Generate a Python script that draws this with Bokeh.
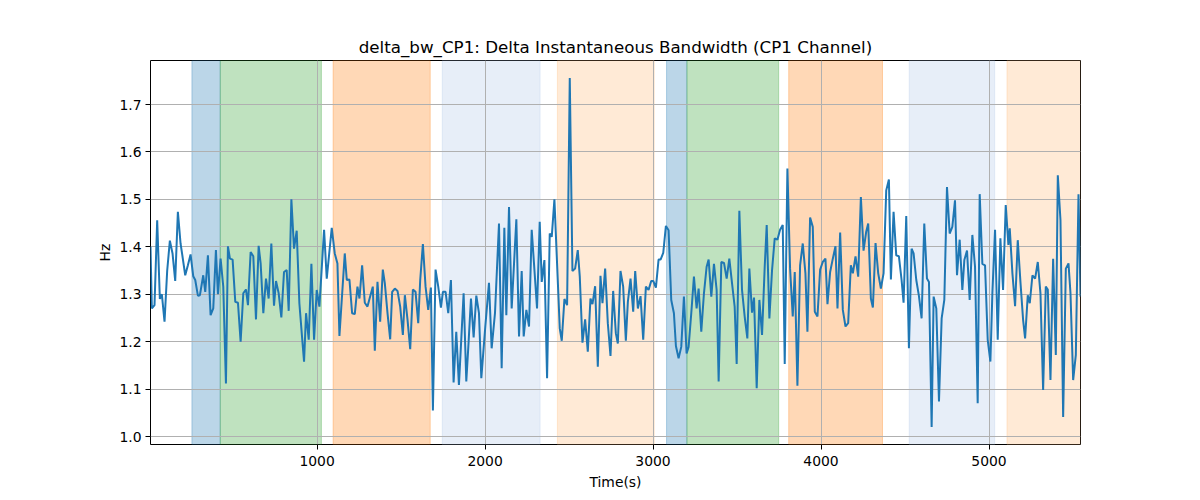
from bokeh.plotting import figure
from bokeh.models import BoxAnnotation, FixedTicker, CustomJSTickFormatter, Range1d
from bokeh.embed import file_html
from bokeh.resources import INLINE

# ---- data ----
time_s = [
    8.4, 16.4, 32.3, 48.2, 64.1, 76.0, 91.9, 107.8, 123.7, 139.6, 155.5, 171.4, 187.3, 199.2, 215.1,
    231.0, 246.9, 262.8, 274.7, 290.6, 302.5, 322.4, 334.3, 350.2, 366.1, 382.0, 397.9, 409.8, 425.7,
    441.6, 457.5,
    469.4, 481.3, 497.2, 513.1, 529.0, 544.9, 560.8, 576.7, 588.6, 604.5, 620.4, 636.3, 652.2, 664.1,
    680.0, 695.9, 711.8, 727.7, 743.6, 755.5, 771.4, 787.3, 803.2, 819.1, 831.1, 847.0, 862.8, 878.7,
    894.6, 910.5, 922.5,
    934.4, 950.3, 966.2, 982.1, 998.0, 1013.9, 1041.7, 1057.6, 1087.4, 1105.3, 1121.2, 1133.1, 1164.9,
    1176.8, 1192.7, 1208.6, 1224.5, 1240.4, 1252.3, 1268.2, 1284.1, 1300.0, 1315.9, 1331.8, 1343.7,
    1359.6, 1375.5, 1391.4,
    1403.4, 1419.3, 1435.2, 1447.1, 1463.0, 1478.9, 1494.8, 1510.7, 1522.6, 1538.5, 1554.4, 1570.3,
    1586.2, 1602.1, 1614.0, 1629.9, 1645.8, 1661.7, 1677.6, 1689.5, 1705.4, 1721.3, 1737.2, 1749.1,
    1765.0, 1780.9, 1796.8, 1812.7, 1828.6, 1844.5,
    1872.4, 1888.3, 1902.2, 1916.1, 1932.0, 1947.9, 1963.8, 1977.7, 2001.5, 2023.4, 2039.3, 2059.1,
    2083.0, 2098.9, 2114.8, 2126.7, 2142.6, 2158.5, 2186.3, 2202.2, 2218.1, 2230.0, 2245.9, 2261.8,
    2277.7, 2309.5, 2325.4,
    2337.4, 2353.3, 2369.2, 2385.1, 2397.0, 2412.9, 2444.7, 2456.6, 2472.5, 2488.4, 2504.3, 2520.2,
    2536.1, 2552.0, 2563.9, 2579.8, 2595.7, 2611.6, 2627.5, 2639.4, 2655.3, 2671.2, 2687.1, 2699.0,
    2714.9, 2730.8, 2746.7, 2762.6, 2778.5, 2790.4,
    2806.3, 2822.2, 2838.1, 2850.1, 2866.0, 2881.9, 2893.8, 2909.7, 2925.6, 2941.5, 2957.4, 2973.3,
    2989.1, 3001.1, 3017.0, 3032.9, 3044.8, 3060.7, 3076.6, 3092.5, 3108.4, 3124.3, 3136.2, 3152.1,
    3168.0, 3183.9, 3199.8, 3211.7, 3227.6, 3243.5,
    3259.4, 3271.3, 3287.2, 3303.1, 3319.0, 3331.0, 3346.9, 3362.7, 3378.6, 3390.6, 3406.5, 3422.4,
    3438.3, 3454.1, 3470.0, 3485.9, 3497.9, 3513.8, 3529.7, 3545.6, 3561.4, 3573.4, 3589.3, 3601.2,
    3617.1, 3633.0, 3648.9, 3664.8, 3676.7, 3692.6, 3708.5, 3724.4,
    3740.3, 3756.2, 3772.1, 3784.0, 3799.9, 3815.8, 3831.7, 3843.6, 3859.5, 3875.4, 3891.3, 3907.2,
    3919.1, 3935.0, 3950.9, 3962.9, 3978.8, 3994.7, 4010.6, 4026.4, 4038.4, 4054.3, 4070.2, 4086.1,
    4098.0, 4113.9, 4129.8, 4145.7, 4161.6, 4177.5,
    4189.5, 4205.4, 4221.3, 4237.2, 4253.1, 4269.0, 4280.9, 4296.8, 4308.7, 4324.6, 4340.5, 4356.4,
    4372.3, 4388.2, 4404.1, 4416.0, 4431.9, 4447.8, 4463.7, 4479.6, 4491.5, 4507.4, 4523.3, 4539.2,
    4551.2, 4567.1, 4583.0, 4598.8, 4614.7, 4630.6, 4642.6,
    4658.5, 4670.4, 4686.3, 4702.2, 4718.1, 4734.0, 4749.9, 4765.8, 4781.7, 4797.6, 4809.5, 4825.4,
    4841.3, 4853.2, 4869.1, 4885.0, 4900.9, 4916.8, 4932.7, 4944.6, 4960.5, 4976.4, 4992.3, 5008.2,
    5020.1, 5036.0, 5051.9, 5067.8, 5083.7, 5099.6, 5115.5,
    5123.5, 5139.4, 5155.3, 5171.2, 5187.1, 5203.0, 5214.9, 5230.8, 5242.7, 5258.6, 5274.5, 5290.4,
    5306.3, 5322.2, 5338.1, 5350.0, 5365.9, 5381.8, 5397.7, 5409.6, 5425.5, 5441.4, 5457.3, 5473.2,
    5485.1, 5501.0, 5516.9, 5532.8, 5544.7,
]

delta_bw = [
    1.40, 1.27, 1.277, 1.456, 1.29, 1.30, 1.242, 1.35, 1.413, 1.386, 1.328, 1.474, 1.407, 1.379, 1.34,
    1.361, 1.384, 1.338, 1.33, 1.297, 1.298, 1.34, 1.305, 1.382, 1.256, 1.27, 1.393, 1.30, 1.375,
    1.316, 1.112,
    1.401, 1.375, 1.373, 1.284, 1.282, 1.20, 1.302, 1.31, 1.277, 1.389, 1.38, 1.247, 1.402, 1.365,
    1.26, 1.333, 1.291, 1.407, 1.276, 1.328, 1.302, 1.251, 1.347, 1.351, 1.265, 1.50, 1.396, 1.434,
    1.281, 1.21, 1.158,
    1.26, 1.204, 1.364, 1.204, 1.309, 1.274, 1.436, 1.333, 1.44, 1.386, 1.365, 1.212, 1.386,
    1.33, 1.331, 1.26, 1.258, 1.316, 1.291, 1.361, 1.282, 1.274, 1.295, 1.316, 1.181,
    1.326, 1.242, 1.352,
    1.323, 1.26, 1.205, 1.305, 1.312, 1.307, 1.274, 1.214, 1.298, 1.246, 1.184, 1.31,
    1.305, 1.239, 1.33, 1.406, 1.316, 1.267, 1.314, 1.055, 1.352, 1.316, 1.272, 1.305,
    1.305, 1.26, 1.33, 1.114, 1.221, 1.109,
    1.302, 1.116, 1.20, 1.291, 1.209, 1.297, 1.26, 1.123, 1.232, 1.324, 1.186, 1.26,
    1.449, 1.144, 1.44, 1.256, 1.484, 1.27, 1.458, 1.211, 1.349, 1.211, 1.267, 1.232,
    1.436, 1.27, 1.453,
    1.326, 1.372, 1.123, 1.428, 1.421, 1.50, 1.228, 1.202, 1.29, 1.277, 1.756, 1.349,
    1.354, 1.393, 1.337, 1.198, 1.247, 1.179, 1.291, 1.279, 1.317, 1.147, 1.339, 1.281,
    1.354, 1.239, 1.17, 1.307, 1.218, 1.196,
    1.349, 1.316, 1.202, 1.284, 1.333, 1.263, 1.349, 1.27, 1.296, 1.204, 1.316, 1.309,
    1.328, 1.328, 1.314, 1.373, 1.373, 1.387, 1.444, 1.435, 1.288, 1.26, 1.191, 1.165,
    1.189, 1.295, 1.175, 1.189, 1.26, 1.337,
    1.27, 1.312, 1.221, 1.302, 1.358, 1.373, 1.295, 1.364, 1.309, 1.116, 1.368, 1.366,
    1.333, 1.375, 1.324, 1.274, 1.153, 1.476, 1.309, 1.253, 1.207, 1.354, 1.261, 1.293,
    1.102, 1.288, 1.214, 1.358, 1.446, 1.249, 1.351, 1.418,
    1.415, 1.436, 1.446, 1.153, 1.565, 1.354, 1.253, 1.347, 1.107, 1.361, 1.407, 1.344,
    1.221, 1.462, 1.442, 1.263, 1.253, 1.352, 1.368, 1.375, 1.279, 1.347, 1.375, 1.401,
    1.27, 1.43, 1.267, 1.232, 1.239, 1.361,
    1.344, 1.38, 1.337, 1.505, 1.392, 1.432, 1.449, 1.291, 1.272, 1.408, 1.344, 1.312,
    1.344, 1.519, 1.542, 1.331, 1.474, 1.382, 1.38, 1.33, 1.282, 1.465, 1.186, 1.396,
    1.386, 1.33, 1.296, 1.249, 1.449, 1.333, 1.326,
    1.02, 1.295, 1.27, 1.074, 1.249, 1.288, 1.526, 1.428, 1.442, 1.498, 1.34, 1.415,
    1.309, 1.372, 1.392, 1.288, 1.425, 1.358, 1.07, 1.511, 1.364, 1.361, 1.204, 1.158,
    1.302, 1.436, 1.204, 1.418, 1.309, 1.488, 1.404,
    1.439, 1.344, 1.275, 1.414, 1.326, 1.246, 1.207, 1.298, 1.281, 1.34, 1.333, 1.368,
    1.302, 1.098, 1.316, 1.31, 1.119, 1.375, 1.172, 1.551, 1.456, 1.041, 1.354, 1.365,
    1.302, 1.119, 1.172, 1.511, 1.295,
]

# shaded phases: (start, end, color)
span_start = [254.8, 423.6, 1095.4, 1745.2, 2430.7, 3080.5, 3201.7, 3807.7, 4525.0, 5107.0]
span_end = [423.6, 1025.8, 1673.6, 2327.6, 3007.0, 3201.7, 3748.0, 4366.0, 5034.0, 5700.0]
span_color = ["#1f77b4", "#2ca02c", "#ff7f0e", "#aec7e8", "#ffbb78",
              "#1f77b4", "#2ca02c", "#ff7f0e", "#aec7e8", "#ffbb78"]

x_ticks = [1000, 2000, 3000, 4000, 5000]
y_ticks = [1.0, 1.1, 1.2, 1.3, 1.4, 1.5, 1.6, 1.7]

FONT = "DejaVu Sans"

p = figure(
    width=1190, height=492,
    output_backend="svg", toolbar_location=None,
    title="delta_bw_CP1: Delta Instantaneous Bandwidth (CP1 Channel)",
    x_range=Range1d(time_s[0], time_s[-1]),
    y_range=Range1d(0.9832, 1.7928),
    min_border_left=150, min_border_right=110, min_border_top=60, min_border_bottom=47,
)
p.background_fill_color = "white"
p.border_fill_color = "white"
p.outline_line_color = "black"
p.outline_line_width = 1
p.outline_line_alpha = 1

p.title.align = "center"
p.title.text_font = FONT
p.title.text_font_size = "16.7px"
p.title.text_font_style = "normal"
p.title.text_color = "black"
p.title.standoff = 8

for s, e, c in zip(span_start, span_end, span_color):
    p.add_layout(BoxAnnotation(left=s, right=e, fill_color=c, fill_alpha=0.3,
                               line_color=c, line_alpha=0.3, line_width=1, level="image"))

p.line(time_s, delta_bw, line_color="#1f77b4", line_width=2)

p.xaxis.ticker = FixedTicker(ticks=x_ticks)
p.yaxis.ticker = FixedTicker(ticks=y_ticks)
p.yaxis.formatter = CustomJSTickFormatter(code="return tick.toFixed(1);")

for ax in (p.xaxis[0], p.yaxis[0]):
    ax.axis_line_color = None
    ax.major_tick_line_color = "black"
    ax.major_tick_out = 5
    ax.major_tick_in = 0
    ax.minor_tick_line_color = None
    ax.major_label_text_font = FONT
    ax.major_label_text_font_size = "13.9px"
    ax.major_label_text_color = "black"
    ax.axis_label_text_font = FONT
    ax.axis_label_text_font_size = "13.9px"
    ax.axis_label_text_font_style = "normal"
    ax.axis_label_text_color = "black"

p.xaxis.major_label_standoff = 6
p.yaxis.major_label_standoff = 4
p.xaxis.axis_label = "Time(s)"
p.yaxis.axis_label = "Hz"
p.xaxis.axis_label_standoff = 5
p.yaxis.axis_label_standoff = 3

for g in (p.xgrid[0], p.ygrid[0]):
    g.grid_line_color = "#b0b0b0"
    g.grid_line_width = 1
    g.level = "underlay"
p.xgrid.ticker = FixedTicker(ticks=x_ticks)
p.ygrid.ticker = FixedTicker(ticks=y_ticks)

open("out.html", "w").write(file_html(p, INLINE))
